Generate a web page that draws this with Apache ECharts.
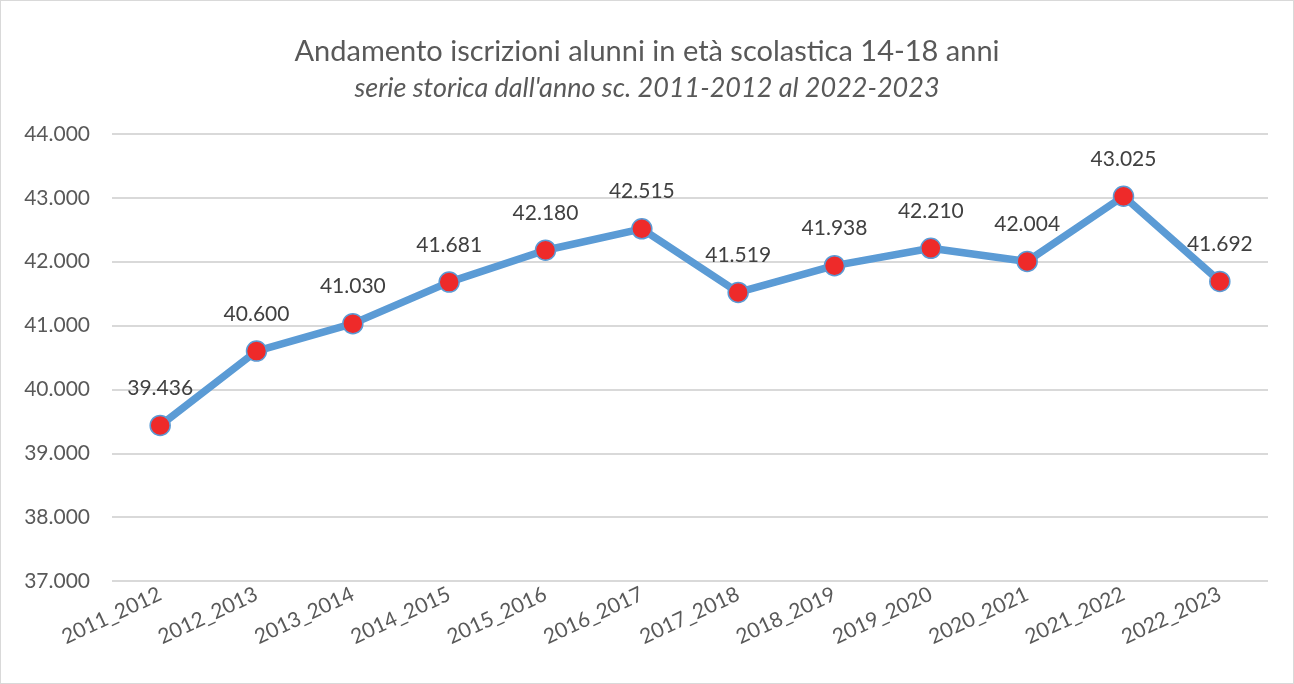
<!DOCTYPE html>
<html>
<head>
<meta charset="utf-8">
<script src="https://cdn.jsdelivr.net/npm/echarts@6/dist/echarts.min.js"></script>
<style>
  html, body { margin: 0; padding: 0; background: #fff; }
  #chart { width: 1292px; height: 682px; border: 1px solid #d9d9d9; }
</style>
</head>
<body>
<div id="chart"></div>
<script>
  var years = ['2011_2012', '2012_2013', '2013_2014', '2014_2015', '2015_2016', '2016_2017',
    '2017_2018', '2018_2019', '2019_2020', '2020_2021', '2021_2022', '2022_2023']
  var iscritti = [39436, 40600, 41030, 41681, 42180, 42515, 41519, 41938, 42210, 42004, 43025, 41692]

  // 41692 -> "41.692"
  function fmt(v) {
    return String(v).replace(/\B(?=(\d{3})+(?!\d))/g, '.')
  }

  var chart = echarts.init(document.getElementById('chart'))
  chart.setOption({
    animation: false,
    textStyle: { fontFamily: 'Lato, "Open Sans", sans-serif' },
    title: {
      left: 'center',
      top: 31,
      text: 'Andamento iscrizioni alunni in età scolastica 14-18 anni',
      subtext: "serie storica dall'anno sc. 2011-2012 al 2022-2023",
      itemGap: 9,
      textStyle: { color: '#595959', fontSize: 29, fontWeight: 'normal' },
      subtextStyle: { color: '#595959', fontSize: 27, fontStyle: 'italic' }
    },
    grid: { left: 111, right: 25, top: 133, bottom: 102 },
    xAxis: {
      type: 'category',
      data: years,
      axisLine: { show: false },
      axisTick: { show: false },
      axisLabel: { rotate: 25, color: '#595959', fontSize: 21, margin: 12 }
    },
    yAxis: {
      type: 'value',
      min: 37000,
      max: 44000,
      interval: 1000,
      axisLabel: { color: '#595959', fontSize: 21, margin: 22, formatter: fmt },
      splitLine: { lineStyle: { color: '#d9d9d9', width: 2 } }
    },
    series: [{
      type: 'line',
      data: iscritti,
      symbol: 'circle',
      symbolSize: 20,
      lineStyle: { color: '#5b9bd5', width: 7.5 },
      itemStyle: { color: '#ee2a2a', borderColor: '#5b9bd5', borderWidth: 1.5 },
      label: {
        show: true,
        position: 'top',
        distance: 16,
        color: '#404040',
        fontSize: 21,
        formatter: function (p) { return fmt(p.value) }
      }
    }]
  })
</script>
</body>
</html>
